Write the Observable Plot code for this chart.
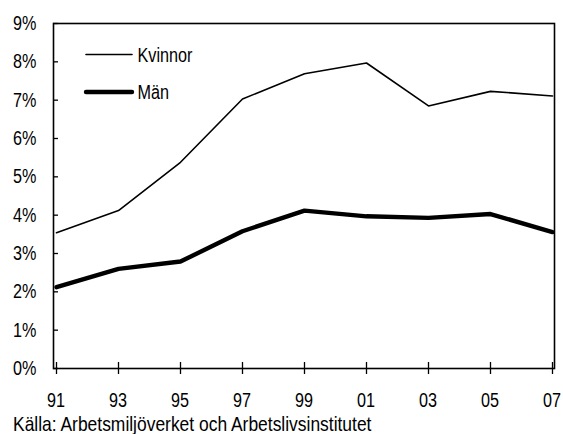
<!DOCTYPE html>
<html><head><meta charset="utf-8">
<script src="https://cdn.jsdelivr.net/npm/d3@7"></script>
<script src="https://cdn.jsdelivr.net/npm/@observablehq/plot@0.6"></script>
<style>
body{margin:0;background:#fff;}
#wrap{position:relative;width:563px;height:434px;overflow:hidden;font-family:"Liberation Sans",Arial,sans-serif;color:#000;}
#chart{position:absolute;left:0;top:0;}
#legend{position:absolute;left:0;top:0;}
#caption{position:absolute;left:12.5px;top:411.5px;font-size:21px;line-height:24px;white-space:nowrap;transform:scaleX(0.83);transform-origin:0 0;}
</style>
</head><body>
<div id="wrap"><div id="chart"></div><div id="legend"></div><div id="caption"></div></div>
<script>
const years = ["91","93","95","97","99","01","03","05","07"];
const seriesNames = ["Kvinnor","Män"];
const kvinnor = [3.54,4.12,5.38,7.03,7.69,7.97,6.85,7.23,7.11];
const man = [2.12,2.60,2.79,3.58,4.12,3.97,3.93,4.03,3.56];
const yTicks = [0,1,2,3,4,5,6,7,8,9];
const captionText = "Källa: Arbetsmiljöverket och Arbetslivsinstitutet";

const widths = {"Kvinnor":1.6,"Män":4.4};
const data = [];
years.forEach((y,i)=>{
  data.push({year:y, value:kvinnor[i], series:"Kvinnor"});
  data.push({year:y, value:man[i], series:"Män"});
});
const font = '"Liberation Sans",Arial,sans-serif';
const SX = 0.81;

const chart = Plot.plot({
  width:563, height:412,
  marginLeft:53, marginRight:9, marginTop:23, marginBottom:44,
  style:{fontFamily:font, fontSize:"20px", color:"#000", background:"#fff", overflow:"visible"},
  x:{type:"point", domain:years, padding:0, label:null, axis:null},
  y:{domain:[0,9], label:null, axis:null},
  marks:[
    Plot.axisY({ticks:yTicks, tickSize:5, dx:5, tickFormat:()=>"", strokeWidth:1.3, label:null}),
    Plot.axisX({tickSize:12, dy:-6, tickFormat:()=>"", strokeWidth:1.3, label:null}),
    Plot.text(yTicks, {y:d=>d, frameAnchor:"left", textAnchor:"end", dx:-17, text:d=>d+"%", fontSize:20, fill:"#000"}),
    ...seriesNames.map(s => Plot.line(data.filter(d=>d.series===s), {x:"year", y:"value", stroke:"#000", strokeWidth:widths[s], strokeLinejoin:"miter"})),
    Plot.frame({stroke:"#000", strokeWidth:1.6})
  ]
});
chart.querySelectorAll("text").forEach(t=>{
  const x = +(t.getAttribute("x")||0);
  const tr = t.getAttribute("transform")||"";
  t.setAttribute("transform", `${tr} translate(${x},0) scale(${SX},1) translate(${-x},0)`);
});
// x tick labels placed with the chart's own scales
const xs = chart.scale("x"), ys = chart.scale("y");
const gx = d3.select(chart).append("g")
  .attr("font-family", font).attr("font-size", 20).attr("fill", "#000").attr("text-anchor", "middle");
const baseY = ys.apply(0) + 38.7;
years.forEach(yr => {
  gx.append("text").attr("transform", `translate(${xs.apply(yr)},${baseY}) scale(${SX},1)`).text(yr);
});
document.getElementById("chart").appendChild(chart);

// legend
const lg = d3.select("#legend").append("svg").attr("width",260).attr("height",120)
  .style("font-family",font).style("font-size","20px");
seriesNames.forEach((s,i)=>{
  const yy = 54.5 + i*37.5;
  lg.append("line").attr("x1",86).attr("x2",132).attr("y1",yy).attr("y2",yy)
    .attr("stroke","#000").attr("stroke-width",widths[s]).attr("stroke-linecap","round");
  lg.append("text").attr("transform",`translate(137.5,${yy}) scale(${SX},1)`).attr("dy","0.36em").text(s);
});
document.getElementById("caption").textContent = captionText;
</script>
</body></html>
